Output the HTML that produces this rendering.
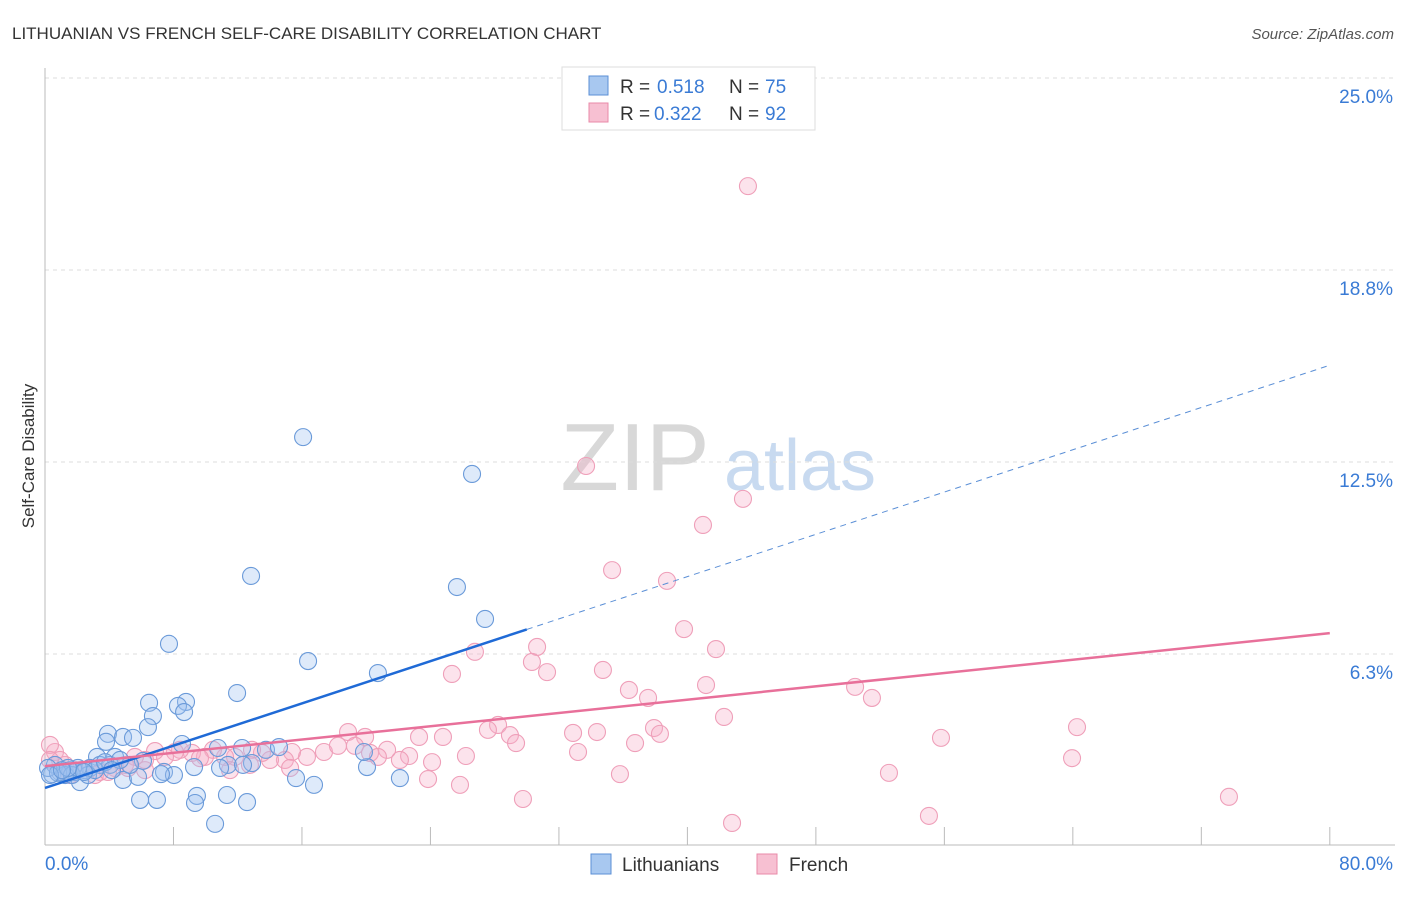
<!DOCTYPE html>
<html><head><meta charset="utf-8"><style>
body{margin:0;background:#fff;font-family:"Liberation Sans",sans-serif}
svg text{font-family:"Liberation Sans",sans-serif}
</style></head><body>
<svg id="c" width="1406" height="892" xmlns="http://www.w3.org/2000/svg">
<text x="12" y="39" font-size="17" fill="#333">LITHUANIAN VS FRENCH SELF-CARE DISABILITY CORRELATION CHART</text>
<text x="1394" y="39" font-size="15" fill="#555" font-style="italic" text-anchor="end">Source: ZipAtlas.com</text>
<text x="34" y="456" font-size="17" fill="#333" text-anchor="middle" transform="rotate(-90 34 456)">Self-Care Disability</text>
<g><text x="635" y="490" font-size="96" fill="#d8d8d8" font-family="Liberation Serif" text-anchor="middle">ZIP</text><text x="800" y="490" font-size="72" fill="#c8daf0" text-anchor="middle">atlas</text></g>
<g id="grid"></g><g id="marks"></g><g id="lines"></g>
<g>
<rect x="562" y="67" width="253" height="63" fill="#fff" stroke="#ddd"/>
<rect x="589" y="76" width="19" height="19" fill="#a8c8f0" stroke="#5b8fd6"/>
<rect x="589" y="103" width="19" height="19" fill="#f7c0d2" stroke="#e88aa8"/>
<text x="620" y="93" font-size="19" fill="#333">R =</text><text x="657" y="93" font-size="19" fill="#3a7bd5">0.518</text>
<text x="729" y="93" font-size="19" fill="#333">N =</text><text x="765" y="93" font-size="19" fill="#3a7bd5">75</text>
<text x="620" y="120" font-size="19" fill="#333">R =</text><text x="654" y="120" font-size="19" fill="#3a7bd5">0.322</text>
<text x="729" y="120" font-size="19" fill="#333">N =</text><text x="765" y="120" font-size="19" fill="#3a7bd5">92</text>
</g>
<g>
<rect x="591" y="854" width="20" height="20" fill="#a8c8f0" stroke="#5b8fd6"/>
<text x="622" y="871" font-size="19" fill="#333">Lithuanians</text>
<rect x="757" y="854" width="20" height="20" fill="#f7c0d2" stroke="#e88aa8"/>
<text x="789" y="871" font-size="19" fill="#333">French</text>
</g>
</svg>
<script>
const yTicks=[25,18.75,12.5,6.25];
const yTickLabels=["25.0%","18.8%","12.5%","6.3%"];
const xTicks=[0,8,16,24,32,40,48,56,64,72,80];
const blueX=[16.07,26.59,12.83,25.65,27.40,7.72,16.38,20.73,11.96,6.48,8.78,8.28,8.66,6.72,6.41,3.92,4.86,5.48,3.80,8.53,10.77,13.76,14.57,12.27,3.24,4.36,6.10,9.28,11.39,12.89,12.33,20.05,19.86,15.63,16.75,22.10,7.41,8.03,7.22,10.90,4.86,5.79,2.18,0.93,0.44,1.25,1.56,1.87,2.49,2.80,3.42,0.62,0.19,5.92,6.97,9.46,9.34,11.33,12.58,10.59,4.05,5.29,2.68,1.25,0.81,1.68,3.11,3.74,4.67,0.31,2.05,2.43,4.17,1.43,1.06];
const blueY=[13.31,12.11,8.79,8.43,7.39,6.58,6.02,5.63,4.98,4.66,4.69,4.56,4.36,4.23,3.87,3.65,3.55,3.52,3.39,3.32,3.19,3.13,3.22,3.19,2.90,2.90,2.77,2.57,2.64,2.70,2.64,2.57,3.06,2.21,1.99,2.21,2.41,2.31,2.34,2.54,2.15,2.25,2.08,2.41,2.34,2.41,2.47,2.41,2.47,2.54,2.64,2.64,2.54,1.50,1.50,1.63,1.40,1.66,1.43,0.72,2.64,2.64,2.31,2.31,2.38,2.31,2.47,2.73,2.80,2.31,2.54,2.41,2.47,2.54,2.47];
const pinkX=[43.77,33.69,43.46,40.97,35.31,38.73,39.79,30.64,41.78,26.77,30.32,31.26,34.74,25.34,36.36,37.55,41.16,50.44,51.49,42.28,64.26,28.21,27.58,28.95,32.88,34.37,37.92,38.29,18.87,19.93,24.78,23.29,29.33,36.74,55.79,33.19,26.21,24.10,22.67,21.30,20.24,22.10,20.73,19.30,17.37,18.24,16.31,15.38,14.94,14.01,13.51,12.89,11.83,11.21,10.46,9.96,9.15,8.41,8.09,7.47,6.85,6.23,5.60,4.98,4.36,3.42,2.49,1.25,0.62,0.31,0.93,1.87,3.11,3.92,35.80,23.85,25.84,52.55,63.95,29.76,73.72,42.78,55.04,15.26,12.76,6.23,5.17,11.52,9.65,0.31,1.56];
const pinkY=[21.48,12.37,11.30,10.45,8.98,8.63,7.06,6.48,6.41,6.32,5.99,5.66,5.73,5.60,5.08,4.82,5.24,5.18,4.82,4.20,3.87,3.94,3.78,3.61,3.68,3.71,3.84,3.65,3.71,3.55,3.55,3.55,3.35,3.35,3.52,3.06,2.93,2.73,2.93,3.13,3.03,2.80,2.90,3.26,3.06,3.26,2.90,3.06,2.80,2.80,3.03,3.13,2.90,2.90,3.13,2.90,3.03,3.13,3.06,2.90,3.09,2.80,2.90,2.64,2.54,2.41,2.47,2.64,3.06,3.29,2.80,2.47,2.31,2.41,2.34,2.18,1.99,2.38,2.86,1.53,1.60,0.75,0.98,2.54,2.64,2.47,2.54,2.47,2.86,2.80,2.31];
const blueTrend=[1.89,0.172];
const pinkTrend=[2.6,0.0541];
const NS="http://www.w3.org/2000/svg";
const X=v=>45+v*16.06, Y=v=>846-v*30.72;
function mk(t,a,p){const e=document.createElementNS(NS,t);for(const k in a)e.setAttribute(k,a[k]);p.appendChild(e);return e;}
const grid=document.getElementById('grid'),marks=document.getElementById('marks'),lines=document.getElementById('lines');
yTicks.forEach((v,i)=>{
 const l=mk('line',{x1:45,x2:1395,y1:Y(v),y2:Y(v),stroke:'#ddd','stroke-dasharray':'4,4'},grid);
 
 
 const t=mk('text',{x:1393,y:Y(v)+25,'font-size':19,fill:'#3a7bd5','text-anchor':'end'},grid);t.textContent=yTickLabels[i];
 
 
});
const ax=mk('line',{x1:45,x2:45,y1:68,y2:845,stroke:'#bbb'},grid);


const bx=mk('line',{x1:45,x2:1395,y1:845,y2:845,stroke:'#bbb'},grid);


xTicks.slice(1).forEach(v=>{const t=mk('line',{x1:X(v),x2:X(v),y1:827,y2:845,stroke:'#bbb'},grid);
 
 });
let t0=mk('text',{x:45,y:870,'font-size':19,fill:'#3a7bd5'},grid);t0.textContent='0.0%';


let t1=mk('text',{x:1393,y:870,'font-size':19,fill:'#3a7bd5','text-anchor':'end'},grid);t1.textContent='80.0%';


pinkX.forEach((x,i)=>{const c=mk('circle',{cx:X(x),cy:Y(pinkY[i]),r:8.5,fill:'rgba(247,176,200,0.35)',stroke:'#ef9fb9','stroke-width':1.1},marks);
 
 });
blueX.forEach((x,i)=>{const c=mk('circle',{cx:X(x),cy:Y(blueY[i]),r:8.5,fill:'rgba(160,196,240,0.35)',stroke:'#6a9ad9','stroke-width':1.1},marks);
 
 });
const bl=mk('line',{x1:X(0),y1:Y(blueTrend[0]),x2:X(30),y2:Y(blueTrend[0]+30*blueTrend[1]),stroke:'#1f6ad6','stroke-width':2.5},lines);


const bd=mk('line',{x1:X(30),y1:Y(blueTrend[0]+30*blueTrend[1]),x2:X(80),y2:Y(blueTrend[0]+80*blueTrend[1]),stroke:'#5b8fd6','stroke-width':1,'stroke-dasharray':'6,5'},lines);


const pl=mk('line',{x1:X(0),y1:Y(pinkTrend[0]),x2:X(80),y2:Y(pinkTrend[0]+80*pinkTrend[1]),stroke:'#e8709a','stroke-width':2.5},lines);


</script>
</body></html>
